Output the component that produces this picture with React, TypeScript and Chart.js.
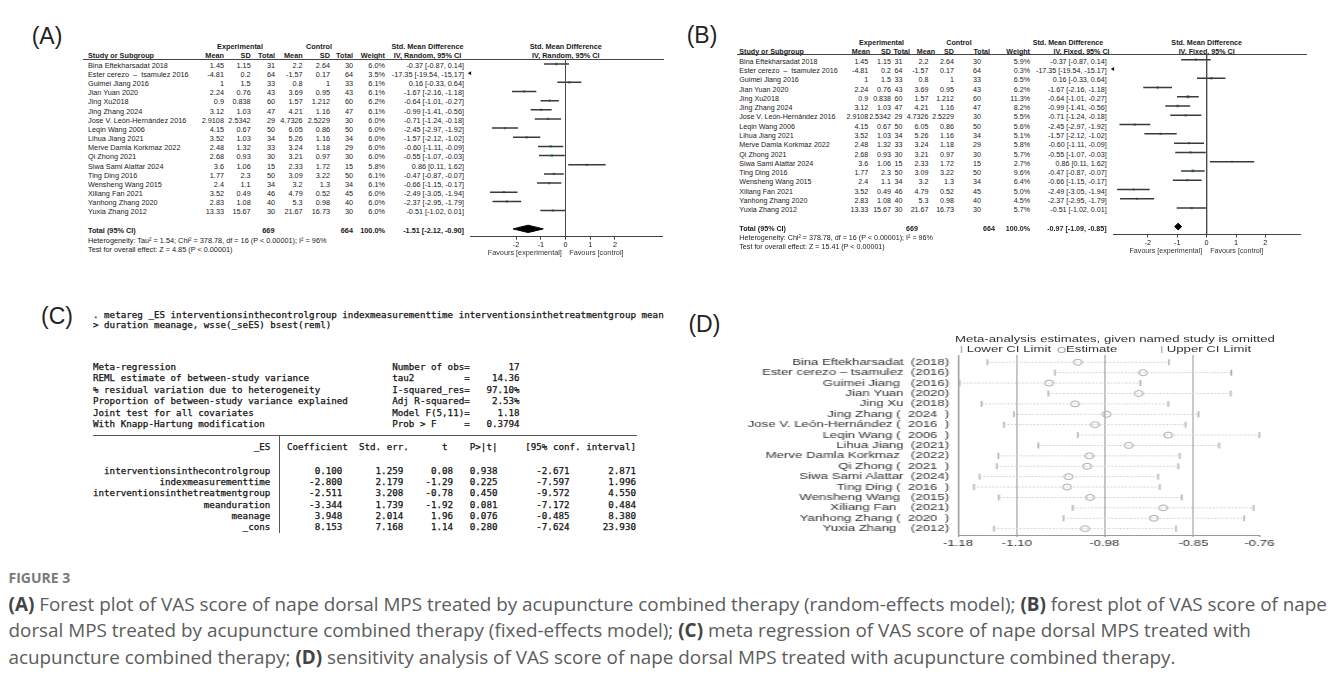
import React, { useEffect, useMemo, useRef } from "react";
import { Chart, registerables } from "chart.js";

Chart.register(...registerables);

const SANS = "'Liberation Sans', Arial, Helvetica, sans-serif";
const MONO = "'DejaVu Sans Mono', 'Liberation Mono', monospace";
const CAPF = "'Open Sans', Lato, sans-serif";

/* ======================= DATA ======================= */
// (A) and (B) forest plots
const studies: string[] = [
  "Bina Eftekharsadat 2018",
  "Ester cerezo  \u2013  tsamulez 2016",
  "Guimei Jiang 2016",
  "Jian Yuan 2020",
  "Jing Xu2018",
  "Jing Zhang 2024",
  "Jose V. Le\u00f3n-Hern\u00e1ndez 2016",
  "Leqin Wang 2006",
  "Lihua Jiang 2021",
  "Merve Damla Korkmaz 2022",
  "Qi Zhong 2021",
  "Siwa Sami Alattar 2024",
  "Ting Ding 2016",
  "Wensheng Wang 2015",
  "Xiliang Fan 2021",
  "Yanhong Zhang 2020",
  "Yuxia Zhang 2012",
];
const expMean = ["1.45", "-4.81", "1", "2.24", "0.9", "3.12", "2.9108", "4.15", "3.52", "2.48", "2.68", "3.6", "1.77", "2.4", "3.52", "2.83", "13.33"];
const expSD = ["1.15", "0.2", "1.5", "0.76", "0.838", "1.03", "2.5342", "0.67", "1.03", "1.32", "0.93", "1.06", "2.3", "1.1", "0.49", "1.08", "15.67"];
const expN = [31, 64, 33, 43, 60, 47, 29, 50, 34, 33, 30, 15, 50, 34, 46, 40, 30];
const ctlMean = ["2.2", "-1.57", "0.8", "3.69", "1.57", "4.21", "4.7326", "6.05", "5.26", "3.24", "3.21", "2.33", "3.09", "3.2", "4.79", "5.3", "21.67"];
const ctlSD = ["2.64", "0.17", "1", "0.95", "1.212", "1.16", "2.5229", "0.86", "1.16", "1.18", "0.97", "1.72", "3.22", "1.3", "0.52", "0.98", "16.73"];
const ctlN = [30, 64, 33, 43, 60, 47, 30, 50, 34, 29, 30, 15, 50, 34, 45, 40, 30];
const smd = [-0.37, -17.35, 0.16, -1.67, -0.64, -0.99, -0.71, -2.45, -1.57, -0.6, -0.55, 0.86, -0.47, -0.66, -2.49, -2.37, -0.51];
const smdLo = [-0.87, -19.54, -0.33, -2.16, -1.01, -1.41, -1.24, -2.97, -2.12, -1.11, -1.07, 0.11, -0.87, -1.15, -3.05, -2.95, -1.02];
const smdHi = [0.14, -15.17, 0.64, -1.18, -0.27, -0.56, -0.18, -1.92, -1.02, -0.09, -0.03, 1.62, -0.07, -0.17, -1.94, -1.79, 0.01];
const weightRandom = [6.0, 3.5, 6.1, 6.1, 6.2, 6.1, 6.0, 6.0, 6.0, 6.0, 6.0, 5.8, 6.1, 6.1, 6.0, 6.0, 6.0];
const weightFixed = [5.9, 0.3, 6.5, 6.2, 11.3, 8.2, 5.5, 5.6, 5.1, 5.8, 5.7, 2.7, 9.6, 6.4, 5.0, 4.5, 5.7];
const expTotal = 669;
const ctlTotal = 664;
const totalRandom = [-1.51, -2.12, -0.9]; // estimate, lower, upper
const totalFixed = [-0.97, -1.09, -0.85];
const forestTicks = [-2, -1, 0, 1, 2];
const hetRandom = "Heterogeneity: Tau\u00b2 = 1.54; Chi\u00b2 = 378.78, df = 16 (P < 0.00001); I\u00b2 = 96%";
const testRandom = "Test for overall effect: Z = 4.85 (P < 0.00001)";
const hetFixed = "Heterogeneity: Chi\u00b2 = 378.78, df = 16 (P < 0.00001); I\u00b2 = 96%";
const testFixed = "Test for overall effect: Z = 15.41 (P < 0.00001)";

// (C) meta-regression output
const commandLines = [
  ". metareg _ES interventionsinthecontrolgroup indexmeasurementtime interventionsinthetreatmentgroup mean",
  "> duration meanage, wsse(_seES) bsest(reml)",
];
const statLeft = [
  "Meta-regression",
  "REML estimate of between-study variance",
  "% residual variation due to heterogeneity",
  "Proportion of between-study variance explained",
  "Joint test for all covariates",
  "With Knapp-Hartung modification",
];
const statName = ["Number of obs", "tau2", "I-squared_res", "Adj R-squared", "Model F(5,11)", "Prob > F"];
const statValue = ["17", "14.36", "97.10%", "2.53%", "1.18", "0.3794"];
const covariates = ["interventionsinthecontrolgroup", "indexmeasurementtime", "interventionsinthetreatmentgroup", "meanduration", "meanage", "_cons"];
const coef = ["0.100", "-2.800", "-2.511", "-3.344", "3.948", "8.153"];
const stdErr = ["1.259", "2.179", "3.208", "1.739", "2.014", "7.168"];
const tStat = ["0.08", "-1.29", "-0.78", "-1.92", "1.96", "1.14"];
const pVal = ["0.938", "0.225", "0.450", "0.081", "0.076", "0.280"];
const ciLow = ["-2.671", "-7.597", "-9.572", "-7.172", "-0.485", "-7.624"];
const ciHigh = ["2.871", "1.996", "4.550", "0.484", "8.380", "23.930"];

// (D) sensitivity analysis
const studiesD = [
  "Bina Eftekharsadat  (2018)",
  "Ester cerezo \u2013 tsamulez  (2016)",
  "Guimei Jiang   (2016)",
  "Jian Yuan  (2020)",
  "Jing Xu  (2018)",
  "Jing Zhang (  2024  )",
  "Jose V. Le\u00f3n-Hern\u00e1ndez (  2016  )",
  "Leqin Wang (  2006  )",
  "Lihua Jiang  (2021)",
  "Merve Damla Korkmaz   (2022)",
  "Qi Zhong (  2021  )",
  "Siwa Sami Alattar  (2024)",
  "Ting Ding (  2016  )",
  "Wensheng Wang   (2015)",
  "Xiliang Fan    (2021)",
  "Yanhong Zhang (  2020  )",
  "Yuxia Zhang    (2012)",
];
const lowerD = [-1.139, -1.045, -1.178, -1.054, -1.147, -1.102, -1.116, -1.013, -1.068, -1.124, -1.126, -1.15, -1.158, -1.123, -1.02, -1.033, -1.13];
const estD = [-1.013, -0.922, -1.053, -0.928, -1.017, -0.973, -0.989, -0.887, -0.942, -0.997, -1.0, -1.026, -1.028, -0.996, -0.894, -0.907, -1.003];
const upperD = [-0.886, -0.799, -0.926, -0.8, -0.887, -0.845, -0.863, -0.76, -0.816, -0.871, -0.873, -0.901, -0.899, -0.868, -0.768, -0.781, -0.876];
const tickValuesD = [-1.18, -1.098, -0.976, -0.852, -0.76];
const tickLabelsD = ["-1.18", "-1.10", "-0.98", "-0.85", "-0.76"];
const titleD = "Meta-analysis estimates, given named study is omitted";
const legendD = ["Lower CI Limit", "Estimate", "Upper CI Limit"];

// caption
const captionHeading = "FIGURE 3";
const captionLines: [string, boolean][][] = [
  [["(A)", true], [" Forest plot of VAS score of nape dorsal MPS treated by acupuncture combined therapy (random-effects model); ", false], ["(B)", true], [" forest plot of VAS score of nape", false]],
  [["dorsal MPS treated by acupuncture combined therapy (fixed-effects model); ", false], ["(C)", true], [" meta regression of VAS score of nape dorsal MPS treated with", false]],
  [["acupuncture combined therapy; ", false], ["(D)", true], [" sensitivity analysis of VAS score of nape dorsal MPS treated with acupuncture combined therapy.", false]],
];

/* ======================= LAYOUT ======================= */
const AXIS_H = 20;
const TOTAL_ROW = 18;

const LAYOUT_A = {
  label: "(A)", labelX: 31.7, labelY: 36, fs: 7.3,
  h1: 46.7, h2: 55.7,
  ruleY: 59, ruleX1: 83, ruleX2: 664,
  row0: 65.3, step: 9.16,
  hetY: 240, testY: 249.3,
  name: 88,
  val: [224, 250.7, 275, 302.7, 330, 353, 385, 464],
  hdr: [224, 250.7, 275, 302.7, 330, 353, 385],
  tot: [274.5, 353, 385, 464],
  expC: 240, ctlC: 319, smdHdrC: 427.5, ivC: 427.5, plotC: 565.8,
  favY: 252, favGapL: 3.6, favGapR: 3.7,
  area: { l: 470, t: 59.5, r: 662, b: 236.7 },
  canvas: { left: 462, top: 52, w: 206, h: 210 },
  xMin: -3.86, xMax: 3.9, yMin: -0.491, yMax: 18.854, diamondH: 0.4,
};
const LAYOUT_B = {
  label: "(B)", labelX: 686.7, labelY: 35, fs: 7.15,
  h1: 43.3, h2: 52.3,
  ruleY: 54, ruleX1: 737, ruleX2: 1307,
  row0: 62.3, step: 9.27,
  hetY: 238.3, testY: 247.3,
  name: 739.3,
  val: [868.3, 891, 902.5, 928.5, 954, 981, 1030, 1106.7],
  hdr: [870, 891, 910, 935, 954, 990, 1030],
  tot: [918, 995, 1030, 1106.7],
  expC: 881.5, ctlC: 959, smdHdrC: 1068, ivC: 1081.5, plotC: 1206.7,
  favY: 251, favGapL: 4.5, favGapR: 3.5,
  area: { l: 1113, t: 54.5, r: 1300, b: 234.5 },
  canvas: { left: 1105, top: 47, w: 205, h: 210 },
  xMin: -3.19, xMax: 3.18, yMin: -0.561, yMax: 18.856, diamondH: 0.36,
};

/* ======================= HELPERS ======================= */
function T(props: { x: number; y: number; t: string; a?: "l" | "r" | "c"; b?: boolean; s?: number; f?: string; c?: string; lh?: number; stroke?: number }) {
  const { x, y, t, a = "l", b = false, s = 7.3, f = SANS, c = "#1a1a1a", lh = 9, stroke = 0 } = props;
  const tr = a === "r" ? "translateX(-100%)" : a === "c" ? "translateX(-50%)" : undefined;
  return (
    <div
      style={{
        position: "absolute", left: x, top: y - lh / 2, height: lh, lineHeight: `${lh}px`,
        fontSize: s, fontFamily: f, fontWeight: b ? 700 : 400, color: c, whiteSpace: "pre", transform: tr,
        WebkitTextStroke: stroke ? `${stroke}px ${c}` : undefined,
      }}
    >
      {t}
    </div>
  );
}

const f2 = (v: number) => v.toFixed(2);
const smdText = (est: number, lo: number, hi: number) => `${f2(est)} [${f2(lo)}, ${f2(hi)}]`;

/* ======================= FOREST CHART ======================= */
function ForestChart({ L, weights, total }: { L: any; weights: number[]; total: number[] }) {
  const ref = useRef<HTMLCanvasElement>(null);
  useEffect(() => {
    const { xMin, xMax, yMin, yMax } = L;
    const idx = studies.map((_, i) => i);
    const datasets: any[] = [];
    datasets.push({ type: "line", data: [{ x: 0, y: yMin }, { x: 0, y: yMax }], borderColor: "#4a4a4a", borderWidth: 1, pointRadius: 0 });
    idx.forEach((i) => {
      if (smdHi[i] < xMin || smdLo[i] > xMax) return;
      datasets.push({ type: "line", data: [{ x: smdLo[i], y: i }, { x: smdHi[i], y: i }], borderColor: "#3a3a3a", borderWidth: 1.5, pointRadius: 0 });
    });
    const shown = idx.filter((i) => smd[i] >= xMin && smd[i] <= xMax);
    datasets.push({
      type: "scatter", data: shown.map((i) => ({ x: smd[i], y: i })), pointStyle: "rect",
      pointRadius: shown.map((i) => 0.45 * Math.sqrt(weights[i]) + 0.5),
      pointBackgroundColor: "#2fb83a", pointBorderWidth: 0,
    });
    const off = idx.filter((i) => smd[i] < xMin);
    datasets.push({
      type: "scatter", data: off.map((i) => ({ x: xMin, y: i })), pointStyle: "triangle", pointRotation: -90,
      pointRadius: 2.2, pointBackgroundColor: "#111", pointBorderWidth: 0, clip: false,
    });
    const [est, lo, hi] = total;
    const h = L.diamondH;
    datasets.push({
      type: "line",
      data: [{ x: lo, y: TOTAL_ROW }, { x: est, y: TOTAL_ROW - h }, { x: hi, y: TOTAL_ROW }, { x: est, y: TOTAL_ROW + h }, { x: lo, y: TOTAL_ROW }],
      borderColor: "#000", backgroundColor: "#000", borderWidth: 1, pointRadius: 0, fill: "shape",
    });
    const pad = {
      left: L.area.l - L.canvas.left,
      top: L.area.t - L.canvas.top,
      right: L.canvas.left + L.canvas.w - L.area.r,
      bottom: L.canvas.top + L.canvas.h - L.area.b - AXIS_H,
    };
    const chart = new Chart(ref.current as HTMLCanvasElement, {
      type: "scatter",
      data: { datasets },
      options: {
        animation: false, responsive: false, devicePixelRatio: 1, events: [],
        layout: { padding: pad },
        plugins: { legend: { display: false }, tooltip: { enabled: false }, title: { display: false } },
        scales: {
          x: {
            type: "linear", min: xMin, max: xMax,
            afterBuildTicks: (s: any) => { s.ticks = forestTicks.map((v) => ({ value: v })); },
            afterFit: (s: any) => { s.height = AXIS_H; },
            ticks: { autoSkip: false, maxRotation: 0, padding: 1, color: "#222", font: { family: SANS, size: 7.3 }, callback: (v: any) => String(v) },
            grid: { drawOnChartArea: false, drawTicks: true, tickLength: 3, tickColor: "#444" },
            border: { color: "#444", width: 1 },
          },
          y: { type: "linear", display: false, reverse: true, min: yMin, max: yMax },
        },
      } as any,
    } as any);
    return () => chart.destroy();
  }, []);
  const c = L.canvas;
  return <canvas ref={ref} width={c.w} height={c.h} style={{ position: "absolute", left: c.left, top: c.top, width: c.w, height: c.h }} />;
}

function ForestPanel({ L, weights, total, model, het, test }: { L: any; weights: number[]; total: number[]; model: string; het: string; test: string }) {
  const zeroX = L.area.l + ((0 - L.xMin) / (L.xMax - L.xMin)) * (L.area.r - L.area.l);
  const heads = ["Mean", "SD", "Total", "Mean", "SD", "Total", "Weight"];
  const totY = L.row0 + TOTAL_ROW * L.step;
  const s = L.fs;
  return (
    <>
      <T x={L.labelX} y={L.labelY} t={L.label} s={23} lh={28} c="#222" />
      <T x={L.expC} y={L.h1} t="Experimental" a="c" b s={s} />
      <T x={L.ctlC} y={L.h1} t="Control" a="c" b s={s} />
      <T x={L.smdHdrC} y={L.h1} t="Std. Mean Difference" a="c" b s={s} />
      <T x={L.plotC} y={L.h1} t="Std. Mean Difference" a="c" b s={s} />
      <T x={L.name} y={L.h2} t="Study or Subgroup" b s={s} />
      {heads.map((h, k) => <T key={"h" + k} x={L.hdr[k]} y={L.h2} t={h} a="r" b s={s} />)}
      <T x={L.ivC} y={L.h2} t={model} a="c" b s={s} />
      <T x={L.plotC} y={L.h2} t={model} a="c" b s={s} />
      <div style={{ position: "absolute", left: L.ruleX1, top: L.ruleY, width: L.ruleX2 - L.ruleX1, height: 1, background: "#444" }} />
      {studies.map((st, i) => {
        const y = L.row0 + i * L.step;
        const cells = [expMean[i], expSD[i], String(expN[i]), ctlMean[i], ctlSD[i], String(ctlN[i]), weights[i].toFixed(1) + "%", smdText(smd[i], smdLo[i], smdHi[i])];
        return (
          <React.Fragment key={"r" + i}>
            <T x={L.name} y={y} t={st} s={s} />
            {cells.map((c, k) => <T key={k} x={L.val[k]} y={y} t={c} a="r" s={s} />)}
          </React.Fragment>
        );
      })}
      <T x={L.name} y={totY} t="Total (95% CI)" b s={s} />
      <T x={L.tot[0]} y={totY} t={String(expTotal)} a="r" b s={s} />
      <T x={L.tot[1]} y={totY} t={String(ctlTotal)} a="r" b s={s} />
      <T x={L.tot[2]} y={totY} t="100.0%" a="r" b s={s} />
      <T x={L.tot[3]} y={totY} t={smdText(total[0], total[1], total[2])} a="r" b s={s} />
      <T x={L.name} y={L.hetY} t={het} s={s} />
      <T x={L.name} y={L.testY} t={test} s={s} />
      <ForestChart L={L} weights={weights} total={total} />
      <T x={zeroX - L.favGapL} y={L.favY} t="Favours [experimental]" a="r" c="#333" s={s} />
      <T x={zeroX + L.favGapR} y={L.favY} t="Favours [control]" c="#333" s={s} />
    </>
  );
}

/* ======================= (C) META-REGRESSION ======================= */
const C_X = 93;
const C_CW = 5.55;
const C_FS = C_CW / 0.602;

function MetaRegPanel() {
  const lines: { y: number; t: string }[] = [];
  commandLines.forEach((t, k) => lines.push({ y: 315 + k * 10.3, t }));
  statLeft.forEach((l, k) => lines.push({ y: 366.7 + k * 11.55, t: l.padEnd(54) + statName[k].padEnd(13) + "=" + statValue[k].padStart(9) }));
  lines.push({ y: 446.7, t: "_ES".padStart(32) + "   " + "Coefficient  Std. err.      t    P>|t|     [95% conf. interval]" });
  covariates.forEach((n, k) =>
    lines.push({
      y: 470.7 + k * 11.33,
      t: n.padStart(32) + "  " + coef[k].padStart(11) + stdErr[k].padStart(11) + tStat[k].padStart(9) + pVal[k].padStart(8) + ciLow[k].padStart(13) + ciHigh[k].padStart(12),
    })
  );
  return (
    <>
      <T x={41} y={316} t="(C)" s={23} lh={28} c="#222" />
      {lines.map((l, k) => <T key={"c" + k} x={C_X} y={l.y} t={l.t} s={C_FS} f={MONO} lh={12} c="#111" stroke={0.25} />)}
      <div style={{ position: "absolute", left: C_X, top: 435, width: 98 * C_CW, height: 1, background: "#555" }} />
      <div style={{ position: "absolute", left: C_X + 33.5 * C_CW, top: 435, width: 1, height: 98, background: "#555" }} />
    </>
  );
}

/* ======================= (D) SENSITIVITY ======================= */
const D_LEFT = 735;
const D_TOP = 330;
const D_SX = 1.42;
const D_W = 391;
const D_H = 225;
const lx = (X: number) => (X - D_LEFT) / D_SX;
const D_AREA = { l: lx(958), r: lx(1259.3), t: 25, b: 205 };

function SensitivityChart() {
  const ref = useRef<HTMLCanvasElement>(null);
  useEffect(() => {
    const rows = studiesD.map((_, i) => i);
    const datasets: any[] = [];
    rows.forEach((i) =>
      datasets.push({ type: "line", data: [{ x: lowerD[i], y: i }, { x: upperD[i], y: i }], borderColor: "#c8c8c8", borderWidth: 1, borderDash: [1.2, 1.4], pointRadius: 0 })
    );
    [lowerD, upperD].forEach((arr) =>
      datasets.push({
        type: "scatter", data: rows.map((i) => ({ x: arr[i], y: i })), pointStyle: "line", pointRotation: 90,
        pointRadius: 3, pointBorderColor: "#a0a0a0", pointBorderWidth: 1, clip: false,
      })
    );
    datasets.push({
      type: "scatter", data: rows.map((i) => ({ x: estD[i], y: i })), pointStyle: "circle", pointRadius: 3,
      pointBackgroundColor: "rgba(255,255,255,0)", pointBorderColor: "#ababab", pointBorderWidth: 1,
    });
    const chart = new Chart(ref.current as HTMLCanvasElement, {
      type: "scatter",
      data: { datasets },
      options: {
        animation: false, responsive: false, devicePixelRatio: 1, events: [],
        layout: { padding: { left: 0, top: D_AREA.t, right: D_W - D_AREA.r, bottom: D_H - D_AREA.b - AXIS_H } },
        plugins: { legend: { display: false }, tooltip: { enabled: false }, title: { display: false } },
        scales: {
          x: {
            type: "linear", min: tickValuesD[0], max: tickValuesD[tickValuesD.length - 1],
            afterBuildTicks: (s: any) => { s.ticks = tickValuesD.map((v) => ({ value: v })); },
            afterFit: (s: any) => { s.height = AXIS_H; },
            ticks: { autoSkip: false, maxRotation: 0, padding: 1, color: "#333", font: { family: SANS, size: 9.3 }, callback: (_v: any, i: number) => tickLabelsD[i] },
            grid: {
              drawOnChartArea: true, drawTicks: true, tickLength: 2, tickColor: "#9a9a9a", lineWidth: 1,
              color: (ctx: any) => (ctx.index >= 1 && ctx.index <= 3 ? "#a8a8a8" : "rgba(0,0,0,0)"),
            },
            border: { color: "#9a9a9a", width: 1 },
          },
          y: {
            type: "linear", reverse: true, min: -0.7, max: 16.61,
            afterBuildTicks: (s: any) => { s.ticks = studiesD.map((_, i) => ({ value: i })); },
            afterFit: (s: any) => { s.width = D_AREA.l; },
            ticks: { autoSkip: false, padding: 6.3, color: "#333", font: { family: SANS, size: 9.3 }, callback: (v: any) => studiesD[v] },
            grid: { drawOnChartArea: false, drawTicks: false },
            border: { color: "#9a9a9a", width: 1 },
          },
        },
      } as any,
    } as any);
    return () => chart.destroy();
  }, []);
  return <canvas ref={ref} width={D_W} height={D_H} style={{ position: "absolute", left: 0, top: 0, width: D_W, height: D_H }} />;
}

function SensitivityPanel() {
  const ly = 19.3;
  return (
    <>
      <T x={688.4} y={324} t="(D)" s={23} lh={28} c="#222" />
      <div style={{ position: "absolute", left: D_LEFT, top: D_TOP, width: D_W, height: D_H, transform: `scaleX(${D_SX})`, transformOrigin: "0 0" }}>
        <SensitivityChart />
        <T x={lx(1115)} y={9.3} t={titleD} a="c" s={9.3} c="#333" lh={11} />
        <div style={{ position: "absolute", left: lx(960.7), top: ly - 3.5, width: 1, height: 7, background: "#b0b0b0" }} />
        <T x={lx(966.7)} y={ly} t={legendD[0]} s={9.3} c="#333" lh={11} />
        <div style={{ position: "absolute", left: lx(1060.7) - 2.5, top: ly - 2.8, width: 4, height: 4.6, border: "1px solid #b0b0b0", borderRadius: "50%" }} />
        <T x={lx(1066)} y={ly} t={legendD[1]} s={9.3} c="#333" lh={11} />
        <div style={{ position: "absolute", left: lx(1160.7), top: ly - 3.5, width: 1, height: 7, background: "#b0b0b0" }} />
        <T x={lx(1166.7)} y={ly} t={legendD[2]} s={9.3} c="#333" lh={11} />
      </div>
    </>
  );
}

/* ======================= CAPTION ======================= */
const CAP_X = 8.5;
const CAP_LINE1_W = 1318.5;

function Caption() {
  const fs = useMemo(() => {
    const ctx = document.createElement("canvas").getContext("2d");
    if (!ctx) return 16.3;
    let w = 0;
    for (const [txt, bold] of captionLines[0]) {
      ctx.font = `${bold ? 700 : 400} 100px ${CAPF}`;
      w += ctx.measureText(txt).width;
    }
    return w > 0 ? (100 * CAP_LINE1_W) / w : 16.3;
  }, []);
  const lh = 26.5;
  return (
    <>
      <div style={{ position: "absolute", left: CAP_X, top: 578 - 9, height: 18, lineHeight: "18px", fontFamily: CAPF, fontWeight: 700, fontSize: 14, color: "#7a7a7a", whiteSpace: "pre" }}>
        {captionHeading}
      </div>
      {captionLines.map((line, k) => (
        <div key={"cap" + k} style={{ position: "absolute", left: CAP_X, top: 604 + k * lh - lh / 2, height: lh, lineHeight: `${lh}px`, fontFamily: CAPF, fontSize: fs, color: "#5c5c5c", whiteSpace: "pre" }}>
          {line.map(([t, b], j) => (
            <span key={j} style={{ fontWeight: b ? 700 : 400, color: b ? "#444" : "#5c5c5c" }}>{t}</span>
          ))}
        </div>
      ))}
    </>
  );
}

/* ======================= APP ======================= */
export default function App() {
  return (
    <div style={{ position: "absolute", left: 0, top: 0, width: 1337, height: 683, overflow: "hidden", background: "#fff" }}>
      <ForestPanel L={LAYOUT_A} weights={weightRandom} total={totalRandom} model="IV, Random, 95% CI" het={hetRandom} test={testRandom} />
      <ForestPanel L={LAYOUT_B} weights={weightFixed} total={totalFixed} model="IV, Fixed, 95% CI" het={hetFixed} test={testFixed} />
      <MetaRegPanel />
      <SensitivityPanel />
      <Caption />
    </div>
  );
}
